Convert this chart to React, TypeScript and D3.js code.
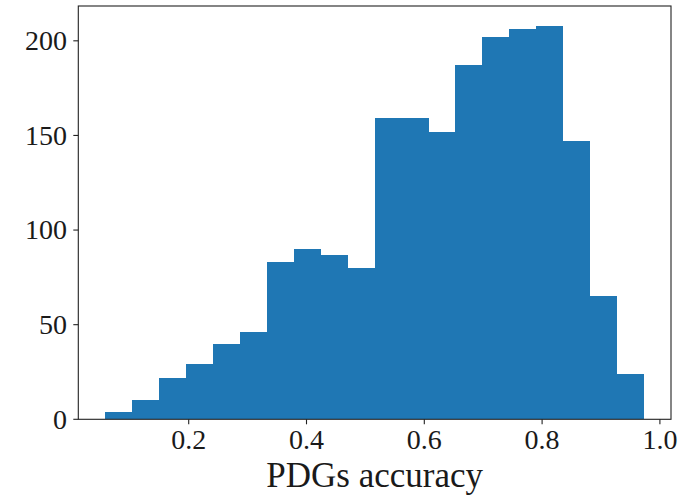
import React from "react";
import * as d3 from "d3";

// Histogram data
const binStart = 0.0583;
const binEnd = 0.9731;
const counts = [4, 10, 22, 29, 40, 46, 83, 90, 87, 80, 159, 159, 152, 187, 202, 206, 208, 147, 65, 24];
const xTicks = [0.2, 0.4, 0.6, 0.8, 1.0];
const xTickLabels = ["0.2", "0.4", "0.6", "0.8", "1.0"];
const yTicks = [0, 50, 100, 150, 200];
const yTickLabels = ["0", "50", "100", "150", "200"];
const xLabel = "PDGs accuracy";

const W = 689;
const H = 496;
const plot = { left: 78.3, right: 671, top: 6, bottom: 419.3 };
const FONT = "'Liberation Serif', 'Times New Roman', serif";

export default function App() {
  const n = counts.length;
  const binW = (binEnd - binStart) / n;
  const edges = d3.range(n + 1).map((i) => binStart + i * binW);
  const span = binEnd - binStart;
  const x = d3
    .scaleLinear()
    .domain([binStart - 0.05 * span, binEnd + 0.05 * span])
    .range([plot.left, plot.right]);
  const ymax = (d3.max(counts) as number) * 1.05;
  const y = d3.scaleLinear().domain([0, ymax]).range([plot.bottom, plot.top]);

  return (
    <svg
      width={W}
      height={H}
      style={{ position: "absolute", left: 0, top: 0, display: "block", background: "#fff" }}
    >
      <g>
        {counts.map((c, i) => (
          <rect
            key={i}
            x={x(edges[i])}
            y={y(c)}
            width={x(edges[i + 1]) - x(edges[i])}
            height={y(0) - y(c)}
            fill="#1f77b4"
            shapeRendering="crispEdges"
          />
        ))}
      </g>
      {/* spines */}
      <rect
        x={plot.left}
        y={plot.top}
        width={plot.right - plot.left}
        height={plot.bottom - plot.top}
        fill="none"
        stroke="#222"
        strokeWidth={1.1}
      />
      {/* x ticks */}
      {xTicks.map((t, i) => (
        <g key={"x" + i} transform={`translate(${x(t)},0)`}>
          <line y1={plot.bottom} y2={plot.bottom + 5} stroke="#222" strokeWidth={1.1} />
          <text
            y={449}
            textAnchor="middle"
            fontFamily={FONT}
            fontSize={28}
            fill="#1a1a1a"
          >
            {xTickLabels[i]}
          </text>
        </g>
      ))}
      {/* y ticks */}
      {yTicks.map((t, i) => (
        <g key={"y" + i} transform={`translate(0,${y(t)})`}>
          <line x1={plot.left - 5} x2={plot.left} stroke="#222" strokeWidth={1.1} />
          <text
            x={67}
            dy="0.33em"
            textAnchor="end"
            fontFamily={FONT}
            fontSize={28}
            fill="#1a1a1a"
          >
            {yTickLabels[i]}
          </text>
        </g>
      ))}
      <text
        x={(plot.left + plot.right) / 2}
        y={487}
        textAnchor="middle"
        fontFamily={FONT}
        fontSize={35}
        fill="#1a1a1a"
      >
        {xLabel}
      </text>
    </svg>
  );
}
